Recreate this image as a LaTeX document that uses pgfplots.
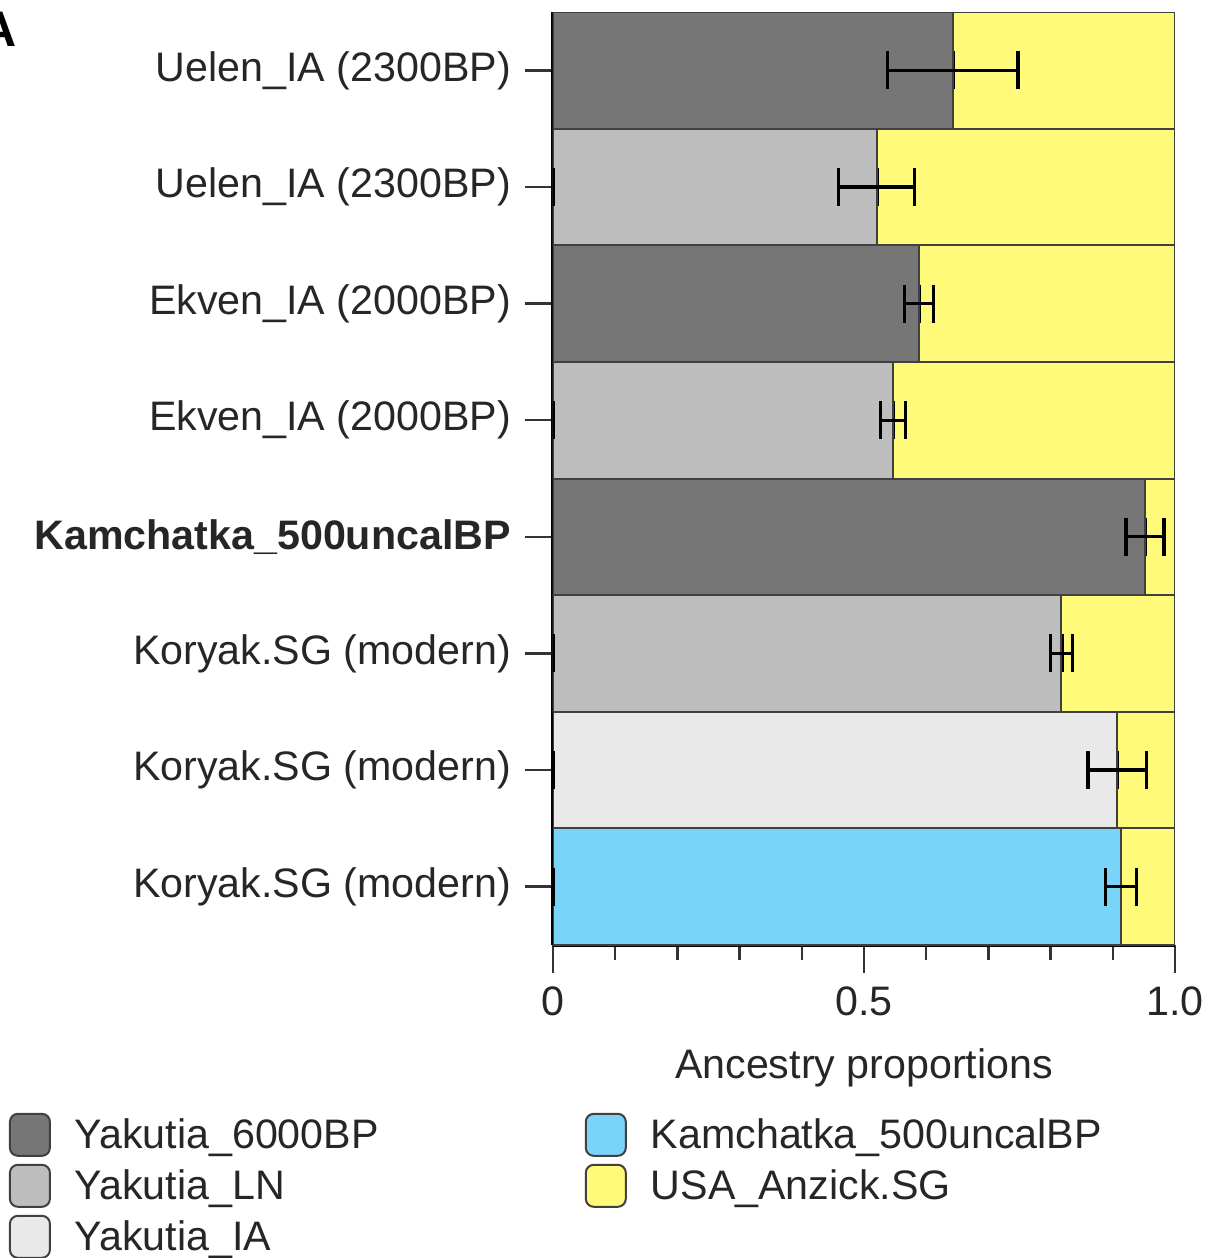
\documentclass[border=0pt]{standalone}
\usepackage{fontspec}
\setmainfont{Liberation Sans}
\usepackage{pgfplots}
\pgfplotsset{compat=1.18}

\definecolor{cDark}{RGB}{118,118,118}
\definecolor{cMid}{RGB}{190,190,190}
\definecolor{cLight}{RGB}{233,233,233}
\definecolor{cBlue}{RGB}{122,212,250}
\definecolor{cYel}{RGB}{255,250,122}

\pgfplotsset{
    errs/.style={error bars/.cd, x dir=both, x explicit, error mark=|,
        error bar style={black, line width=0.8pt},
        error mark options={black, line width=0.8pt, mark size=4.75pt}},
}

\begin{document}
\begin{tikzpicture}[font=\fontsize{10.3}{12.4}\selectfont]
\path[use as bounding box] (-138.25pt,-78.25pt) rectangle (165.25pt,236.25pt);
\begin{axis}[
    at={(0,0)}, anchor=south west,
    scale only axis,
    width=155.5pt, height=233.25pt,
    xbar stacked,
    bar width=1,
    xmin=0, xmax=1, ymin=-0.5, ymax=7.5,
    enlargelimits=false,
    axis x line*=bottom, axis y line*=left,
    axis line style={black, line width=0.8pt},
    tick align=outside,
    major tick length=7pt, minor tick length=3.75pt,
    tick style={black!80, line width=0.6pt},
    xtick={0,0.5,1}, xticklabels={0,0.5,1.0},
    minor xtick={0.1,0.2,0.3,0.4,0.6,0.7,0.8,0.9},
    ytick={0,...,7},
    yticklabels={Koryak.SG (modern),Koryak.SG (modern),Koryak.SG (modern),\textbf{Kamchatka\_500uncalBP},Ekven\_IA (2000BP),Ekven\_IA (2000BP),Uelen\_IA (2300BP),Uelen\_IA (2300BP)},
    ticklabel style={text=black!85},
    xlabel={Ancestry proportions},
    xlabel style={text=black!85, yshift=-1.3pt},
    legend image code/.code={\draw[#1, rounded corners=2pt] (0pt,-4.85pt) rectangle (10pt,5.65pt);},
    legend columns=3, transpose legend,
    legend cell align=left,
    legend style={draw=none, fill=none, at={(-0.876,-0.179)}, anchor=north west,
        inner sep=0pt, row sep=1.75pt,
        nodes={inner xsep=1.5pt, inner ysep=0.6pt, text=black!85},
        /tikz/every odd column/.append style={column sep=4.5pt},
        /tikz/every even column/.append style={column sep=50pt}},
]
% zero-width segments carry a tiny error so that their error marks stay on the bar edge
\addplot[fill=cDark, draw=black!75, line width=0.5pt, errs]
  coordinates {(0,0) +- (0.001,0) (0,1) +- (0.001,0) (0,2) +- (0.001,0) (0.9518,3) +- (0.0305,0)
               (0,4) +- (0.001,0) (0.5884,5) +- (0.0233,0) (0,6) +- (0.001,0) (0.6426,7) +- (0.105,0)};
\addlegendentry{Yakutia\_6000BP}
\addplot[fill=cMid, draw=black!75, line width=0.5pt, errs]
  coordinates {(0,0) +- (0.001,0) (0,1) +- (0.001,0) (0.8175,2) +- (0.0175,0) (0,3) +- (0.001,0)
               (0.5466,4) +- (0.020,0) (0,5) +- (0.001,0) (0.5206,6) +- (0.061,0) (0,7) +- (0.001,0)};
\addlegendentry{Yakutia\_LN}
\addplot[fill=cLight, draw=black!75, line width=0.5pt, errs]
  coordinates {(0,0) +- (0.001,0) (0.9072,1) +- (0.047,0) (0,2) +- (0.001,0) (0,3) +- (0.001,0)
               (0,4) +- (0.001,0) (0,5) +- (0.001,0) (0,6) +- (0.001,0) (0,7) +- (0.001,0)};
\addlegendentry{Yakutia\_IA}
\addplot[fill=cBlue, draw=black!75, line width=0.5pt, errs]
  coordinates {(0.9127,0) +- (0.025,0) (0,1) +- (0.001,0) (0,2) +- (0.001,0) (0,3) +- (0.001,0)
               (0,4) +- (0.001,0) (0,5) +- (0.001,0) (0,6) +- (0.001,0) (0,7) +- (0.001,0)};
\addlegendentry{Kamchatka\_500uncalBP}
\addplot[fill=cYel, draw=black!75, line width=0.5pt]
  coordinates {(0.0873,0) (0.0928,1) (0.1825,2) (0.0482,3)
               (0.4534,4) (0.4116,5) (0.4794,6) (0.3574,7)};
\addlegendentry{USA\_Anzick.SG}
\draw[cYel, line width=0.8pt] (axis cs:1,-0.45) -- (axis cs:1,7.45);
\draw[black, line width=0.8pt, densely dotted] (axis cs:1,-0.5) -- (axis cs:1,7.5);
\end{axis}
\node[font=\bfseries\fontsize{12.5}{15}\selectfont] at (-138.5pt,229pt) {A};
\end{tikzpicture}
\end{document}
